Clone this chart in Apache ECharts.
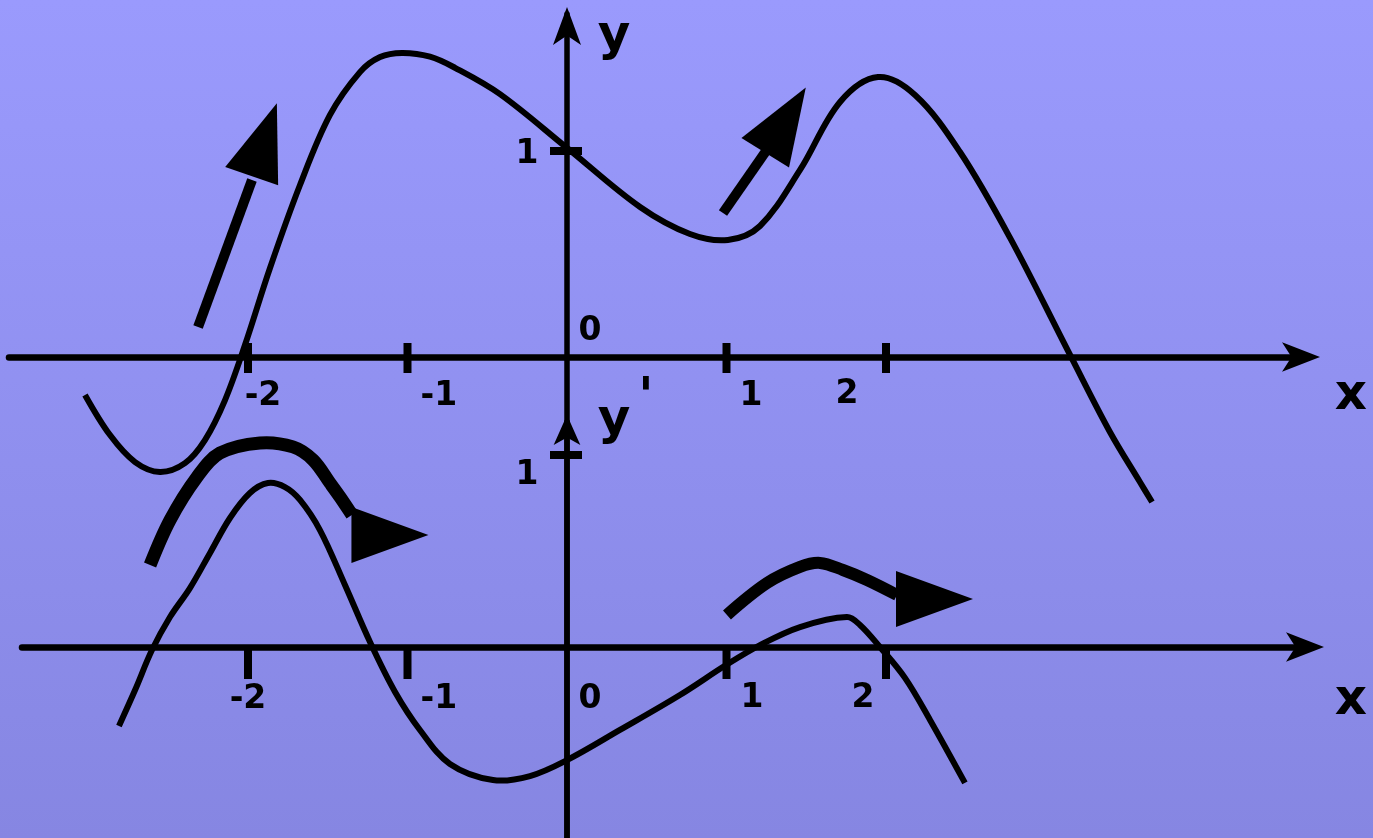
<!DOCTYPE html>
<html>
<head>
<meta charset="utf-8">
<title>y и y'</title>
<style>
  html, body { margin: 0; padding: 0; }
  #chart-container { width: 1373px; height: 838px; background: linear-gradient(#9a9afd, #8686e2); }
</style>
<script src="https://cdn.jsdelivr.net/npm/echarts@6/dist/echarts.min.js"></script>
</head>
<body>
<div id="chart-container"></div>
<script>
// upper graph: y(x)
const yCurve = [
  [-3.022, -0.184], [-2.865, -0.379], [-2.708, -0.510], [-2.552, -0.558], [-2.395, -0.515],
  [-2.270, -0.403], [-2.144, -0.209], [-2.019, 0.058], [-1.862, 0.432], [-1.674, 0.835],
  [-1.486, 1.175], [-1.298, 1.383], [-1.172, 1.456], [-1.034, 1.476], [-0.859, 1.458],
  [-0.702, 1.404], [-0.420, 1.276], [0, 1.015], [0.458, 0.728], [0.771, 0.597],
  [1.009, 0.568], [1.210, 0.636], [1.461, 0.908], [1.712, 1.238], [1.950, 1.359],
  [2.182, 1.272], [2.464, 0.995], [2.778, 0.578], [3.154, 0.010], [3.404, -0.364],
  [3.592, -0.607], [3.668, -0.704]
];

// lower graph: y'(x)
const dyCurve = [
  [-2.809, -0.411], [-2.708, -0.224], [-2.602, -0.016], [-2.489, 0.156], [-2.364, 0.307],
  [-2.238, 0.490], [-2.113, 0.672], [-1.988, 0.802], [-1.875, 0.854], [-1.768, 0.833],
  [-1.674, 0.766], [-1.549, 0.609], [-1.392, 0.323], [-1.235, 0.026], [-1.078, -0.234],
  [-0.922, -0.432], [-0.734, -0.609], [-0.464, -0.693], [-0.232, -0.672], [0, -0.589],
  [0.332, -0.432], [0.708, -0.250], [0.997, -0.094], [1.210, 0.010], [1.461, 0.104],
  [1.755, 0.156], [1.837, 0.115], [1.962, 0], [2.119, -0.161], [2.276, -0.380],
  [2.495, -0.708]
];

// big arrows (shafts)
const upShaftLeft = [[-2.313, 0.146], [-1.975, 0.859]];
const upShaftRight = [[0.978, 0.699], [1.248, 1.0]];
const lowShaftLeft = [
  [-2.614, 0.427], [-2.489, 0.661], [-2.320, 0.885], [-2.176, 1.010], [-1.925, 1.063],
  [-1.718, 1.042], [-1.592, 0.974], [-1.486, 0.854], [-1.423, 0.781], [-1.348, 0.688]
];
const lowShaftRight = [
  [1.003, 0.167], [1.254, 0.333], [1.461, 0.417], [1.586, 0.438], [1.730, 0.401],
  [1.881, 0.349], [2.069, 0.271]
];
// arrow heads: x, y, direction in degrees
const upHeads = [[-1.898, 1.055, 70.9], [1.370, 1.150, 58.2]];
const lowHeads = [[-1.110, 0.583, 0], [2.304, 0.25, 0]];

// ticks
const xTicks = [-2, -1, 1, 2];
const yTicks = [1];

// tick labels [text, x, y]
const upLabels = [['-2', -1.906, -0.189], ['-1', -0.803, -0.189], ['1', 1.154, -0.189],
  ['2', 1.755, -0.180], ['0', 0.144, 0.126], ['1', -0.251, 0.985]];
const lowLabels = [['-2', -2.0, -0.271], ['-1', -0.803, -0.271], ['0', 0.144, -0.271],
  ['1', 1.160, -0.266], ['2', 1.856, -0.266], ['1', -0.251, 0.896]];
const upNames = [['y', 0.295, 1.555], ['x', 4.915, -0.190]];
const lowNames = [['y', 0.295, 1.175], ["'", 0.495, 1.29], ['x', 4.915, -0.280]];

// layout (pixels)
const X0 = 567, SX = 159.5;
const upY0 = 357, upSY = 206;
const lowY0 = 647, lowSY = 192;
const H = 838, W = 1373;
const upGrid = { left: 9, rightEdge: 1308, top: 14 };
const lowGrid = { left: 22, rightEdge: 1312, top: 422 };

const FONT = 'DejaVu Sans';

function axisX(g, idx) {
  return {
    type: 'value', gridIndex: idx,
    min: (g.left - X0) / SX, max: (g.rightEdge - X0) / SX,
    axisLine: { onZero: true, symbol: ['none', 'arrow'], symbolSize: [22, 38], symbolOffset: [0, 12],
      lineStyle: { color: '#000', width: 6.5 } },
    axisTick: { show: false }, axisLabel: { show: false }, splitLine: { show: false }
  };
}
function axisY(g, idx, y0, sy, arrow) {
  return {
    type: 'value', gridIndex: idx,
    min: -(H - y0) / sy, max: (y0 - g.top) / sy,
    axisLine: { onZero: true, symbol: ['none', 'arrow'], symbolSize: arrow, symbolOffset: [0, 7],
      lineStyle: { color: '#000', width: 5.5 } },
    axisTick: { show: false }, axisLabel: { show: false }, splitLine: { show: false }
  };
}

// smooth curve through the points, placed with the axis scales
function curve(points, idx, width) {
  return {
    type: 'custom', xAxisIndex: idx, yAxisIndex: idx, silent: true,
    data: points, encode: { x: 0, y: 1 },
    renderItem: function (params, api) {
      if (params.dataIndex !== 0) return null;
      return {
        type: 'polyline',
        shape: { points: points.map(p => api.coord(p)), smooth: 0.35 },
        style: { stroke: '#000', lineWidth: width, fill: 'none', lineJoin: 'round' }
      };
    }
  };
}
function heads(data, idx) {
  return {
    type: 'scatter', xAxisIndex: idx, yAxisIndex: idx, clip: false, silent: true,
    symbol: 'triangle', symbolSize: [56, 77],
    itemStyle: { color: '#000', opacity: 1 },
    data: data.map(d => ({ value: [d[0], d[1]], symbolRotate: d[2] - 90 }))
  };
}
function ticks(idx, xSize, xOffset) {
  return [{
    type: 'scatter', xAxisIndex: idx, yAxisIndex: idx, clip: false, silent: true,
    symbol: 'rect', symbolSize: xSize, symbolOffset: xOffset,
    itemStyle: { color: '#000', opacity: 1 },
    data: xTicks.map(v => [v, 0])
  }, {
    type: 'scatter', xAxisIndex: idx, yAxisIndex: idx, clip: false, silent: true,
    symbol: 'rect', symbolSize: [32, 8], symbolOffset: [-1, 0],
    itemStyle: { color: '#000', opacity: 1 },
    data: yTicks.map(v => [0, v])
  }];
}
function texts(data, idx, size) {
  return {
    type: 'scatter', xAxisIndex: idx, yAxisIndex: idx, clip: false, silent: true,
    symbolSize: 1, itemStyle: { color: 'transparent', opacity: 1 },
    label: { show: true, position: 'inside', formatter: '{b}', color: '#000', opacity: 1,
      fontFamily: FONT, fontWeight: 'bold', fontSize: size },
    data: data.map(d => ({ name: d[0], value: [d[1], d[2]] }))
  };
}

const chart = echarts.init(document.getElementById('chart-container'));
chart.setOption({
  animation: false,
  grid: [
    { left: upGrid.left, right: W - upGrid.rightEdge, top: upGrid.top, bottom: 0, outerBoundsMode: 'none' },
    { left: lowGrid.left, right: W - lowGrid.rightEdge, top: lowGrid.top, bottom: 0, outerBoundsMode: 'none' }
  ],
  xAxis: [axisX(upGrid, 0), axisX(lowGrid, 1)],
  yAxis: [axisY(upGrid, 0, upY0, upSY, [21, 38]), axisY(lowGrid, 1, lowY0, lowSY, [20, 30])],
  series: [
    curve(yCurve, 0, 6),
    curve(upShaftLeft, 0, 10),
    curve(upShaftRight, 0, 10),
    heads(upHeads, 0),
    ...ticks(0, [8, 30], [0, 1]),
    texts(upLabels, 0, 33),
    texts(upNames, 0, 50),
    curve(dyCurve, 1, 6),
    curve(lowShaftLeft, 1, 13),
    curve(lowShaftRight, 1, 12),
    heads(lowHeads, 1),
    ...ticks(1, [8, 32], [0, 16]),
    texts(lowLabels, 1, 33),
    texts(lowNames, 1, 50)
  ]
});
</script>
</body>
</html>
